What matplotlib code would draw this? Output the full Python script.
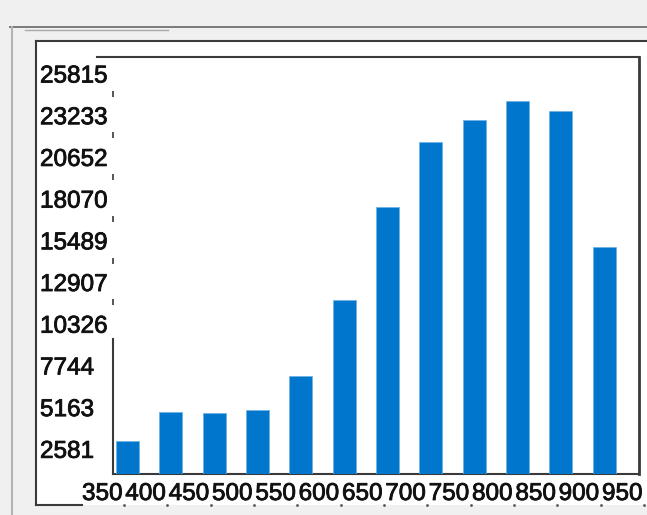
"""
Bar chart screenshot recreation: counts per 50-unit bin (350..950).
"""

import matplotlib
matplotlib.use("Agg")
import matplotlib.pyplot as plt
import matplotlib.transforms as mtransforms
import matplotlib.patheffects as pe

W, H = 647, 515
DPI = 100

# data
bin_labels = ["350", "400", "450", "500", "550", "600", "650",
              "700", "750", "800", "850", "900", "950"]
counts = [2024, 3857, 3757, 3962, 6067, 10772, 16529,
          20553, 21915, 23091, 22491, 14071]
y_ticks = [2581, 5163, 7744, 10326, 12907, 15489, 18070, 20652, 23233, 25815]
y_max = 25815

BAR_COLOR = "#0077cc"
FRAME = "#3a3a3a"

plt.rcParams["font.family"] = ["Liberation Sans", "DejaVu Sans"]

fig = plt.figure(figsize=(W / DPI, H / DPI), dpi=DPI)
fig.patch.set_facecolor("#f0f0f0")

# background layer in pixel coordinates (y grows downward)
bg = fig.add_axes([0, 0, 1, 1], zorder=0)
bg.set_xlim(0, W)
bg.set_ylim(H, 0)
bg.axis("off")
bg.add_patch(plt.Rectangle((36, 41), W - 36, 505 - 41, facecolor="white",
                           edgecolor="none"))
bg.plot([10, W], [27, 27], color="#7a7a7a", lw=1.4)
bg.plot([25, 168], [29.5, 29.5], color="#a8a8a8", lw=1.0)
bg.plot([11.5, 11.5], [27, H], color="#b4b4b4", lw=1.5)
bg.plot([36, W], [41, 41], color=FRAME, lw=1.5)
bg.plot([36, 36], [41, 505], color=FRAME, lw=1.5)
bg.plot([36, 82], [505, 505], color=FRAME, lw=1.5)

# plot area: pixel 113..639 horizontally, 57..474 vertically
left_px, right_px, top_px, bot_px = 113, 639, 57, 474
step = 43.33   # pixels per category
origin = 124   # pixel of category boundary 0
ax = fig.add_axes([left_px / W, (H - bot_px) / H,
                   (right_px - left_px) / W, (bot_px - top_px) / H], zorder=1)
ax.set_xlim((left_px - origin) / step, (right_px - origin) / step)
ax.set_ylim(0, y_max)
ax.patch.set_alpha(0)
for s in ax.spines.values():
    s.set_visible(False)
ax.set_xticks([])
ax.set_yticks([])

xs = [i + 0.08 for i in range(len(counts))]
ax.bar(xs, counts, width=0.53, color=BAR_COLOR, edgecolor="#6fb0e4",
       linewidth=0.5)

# frame lines
bg.plot([97, right_px], [top_px, top_px], color=FRAME, lw=1.5, zorder=5)
bg.plot([right_px, right_px], [top_px, bot_px], color=FRAME, lw=2, zorder=5)
bg.plot([left_px, right_px], [bot_px, bot_px], color=FRAME, lw=1.5, zorder=5)
bg.plot([left_px, left_px], [339, bot_px], color=FRAME, lw=1.5, zorder=5)

ov = fig.add_axes([0, 0, 1, 1], zorder=2)
ov.set_xlim(0, W)
ov.set_ylim(H, 0)
ov.axis("off")

# slightly heavier glyphs, like the bitmap font of the screenshot
heavy = [pe.withStroke(linewidth=0.6, foreground="#111111")]

# y labels, left aligned at x=40, baseline ~25 px under the tick value
ytrans = mtransforms.blended_transform_factory(ov.transData, ax.transData)
lab_off = ytrans + mtransforms.ScaledTranslation(0, -25.5 / DPI,
                                                 fig.dpi_scale_trans)
dash_off = ytrans + mtransforms.ScaledTranslation(0, 5 / DPI,
                                                  fig.dpi_scale_trans)
for v in y_ticks:
    ov.text(40, v, str(v), transform=lab_off, ha="left", va="baseline",
            fontsize=17.5, color="#111111", path_effects=heavy)
ov.plot([left_px] * (len(y_ticks) - 1), y_ticks[:-1], linestyle="none",
        marker="|", markersize=5, markeredgewidth=1.2, color=FRAME,
        transform=dash_off)

# x labels between category boundaries, small dots at the boundaries
xtrans = mtransforms.blended_transform_factory(ax.transData, ov.transData)
for i, lab in enumerate(bin_labels):
    ov.text(i - 0.5, 500, lab, transform=xtrans, ha="center", va="baseline",
            fontsize=17.5, color="#111111", path_effects=heavy)
ov.plot(range(len(bin_labels)), [505] * len(bin_labels), linestyle="none",
        marker="s", markersize=0.9, color="#555555", transform=xtrans)

fig.savefig("out.png", dpi=DPI, facecolor=fig.get_facecolor())
